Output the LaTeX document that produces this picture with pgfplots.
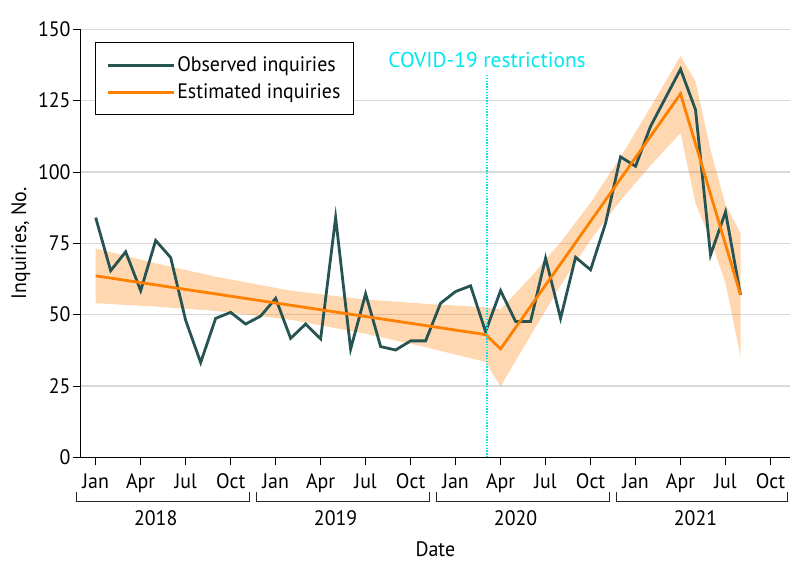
\documentclass[border=0pt]{standalone}
\usepackage{fontspec}
\setmainfont[FakeStretch=0.95]{PT Sans}
\newfontfamily\widefont{PT Sans}
\usepackage{pgfplots}
\pgfplotsset{compat=1.18}

\definecolor{obs}{RGB}{38,84,82}
\definecolor{est}{RGB}{255,127,0}
\definecolor{cov}{RGB}{0,232,238}
\definecolor{gridc}{RGB}{217,217,217}
\newcommand{\fs}{\fontsize{21}{25}\selectfont}

\begin{document}
\begin{tikzpicture}
\begin{axis}[
  scale only axis, width=709.3bp, height=428bp,
  xmin=-1, xmax=46.3, ymin=0, ymax=150,
  axis x line*=bottom, axis y line*=left,
  axis line style={-, black, line width=1bp},
  clip=false,
  ytick={0,25,...,150},
  ymajorgrids, grid style={gridc, line width=1.3bp},
  xtick={0,3,...,45},
  xticklabels={Jan,Apr,Jul,Oct,Jan,Apr,Jul,Oct,Jan,Apr,Jul,Oct,Jan,Apr,Jul,Oct},
  tick align=outside, major tick length=8bp,
  tick style={black, line width=0.9bp},
  /pgf/number format/assume math mode=true,
  every tick label/.append style={font=\fs, text=black},
  yticklabel style={inner sep=2bp},
  xticklabel style={inner sep=2bp, yshift=-6bp},
  ylabel={Inquiries, No.},
  ylabel style={at={([xshift=-60bp]axis description cs:0,0.5)}, anchor=center, rotate=0, font=\fs},
  xlabel={Date},
  xlabel style={at={([yshift=-92bp]axis description cs:0.5,0)}, anchor=center, font=\fs},
  legend style={at={(0.0202,0.9696)}, anchor=north west, draw=black, line width=0.9bp,
     font=\fs, inner xsep=11bp, inner ysep=9bp, row sep=0bp,
     nodes={text height=16bp, text depth=3bp, inner ysep=4bp},
     cells={anchor=west}},
  legend image code/.code={\path (0bp,0bp) -- (66bp,0bp); \draw[#1] (0bp,0bp) -- (61bp,0bp);},
]
% confidence band
\addplot[draw=none, fill=est, fill opacity=0.3, forget plot] coordinates {
 (0,73.2) (4,68.0) (8,63.3) (13,58.4) (18,55.3) (22,53.8) (26,52.6)
 (27,51.9) (29,63.1) (31,75.4) (33,89.2) (35,105.2) (37,122.7) (39,140.7)
 (40,131.7) (41,107.7) (42,88.5) (43,78.5)
 (43,35.3) (42,61.0) (41,76.2) (40,89.0) (39,113.6)
 (37,102.3) (35,90.0) (33,76.2) (31,60.2) (29,42.7) (27,24.8)
 (26,33.4) (22,38.6) (18,43.3) (13,48.2) (8,51.3) (4,52.8) (0,54.0)
} -- cycle;

\addplot[obs, line width=2.8bp, no markers, line join=miter] coordinates {
 (0,84) (1,65.4) (2,72) (3,58.4) (4,76) (5,70) (6,48) (7,33.2) (8,48.7) (9,50.8)
 (10,46.7) (11,49.5) (12,55.7) (13,41.7) (14,46.7) (15,41.5) (16,84) (17,37.9)
 (18,57.3) (19,38.8) (20,37.6) (21,40.8) (22,40.8) (23,54) (24,58.1) (25,60.1)
 (26,44) (27,58.4) (28,47.6) (29,47.6) (30,69.8) (31,48.7) (32,70.1) (33,65.7)
 (34,82) (35,105.3) (36,102) (37,116) (38,126) (39,136) (40,121.8) (41,70.9)
 (42,86) (43,56.9)
};
\addlegendentry{Observed inquiries}

\addplot[est, line width=2.8bp, no markers] coordinates {
 (0,63.6) (26,43.0) (27,38.0) (39,127.4) (43,57.0)
};
\addlegendentry{Estimated inquiries}

% COVID line
\draw[cov, line width=1.3bp, dash pattern=on 1.4bp off 1.4bp] (axis cs:26.1,0) -- (axis cs:26.1,134);
\node[text=cov, font=\widefont\fontsize{21.5}{25}\selectfont, anchor=center] at (axis cs:26.1,139.3) {COVID-19 restrictions};

% year brackets
\draw[black!85, line width=1bp] ([yshift=-34.4bp]axis cs:-1.25,0) -- ([yshift=-44.4bp]axis cs:-1.25,0) -- ([yshift=-44.4bp]axis cs:10.24,0) -- ([yshift=-34.4bp]axis cs:10.24,0);
\draw[black!85, line width=1bp] ([yshift=-34.4bp]axis cs:10.74,0) -- ([yshift=-44.4bp]axis cs:10.74,0) -- ([yshift=-44.4bp]axis cs:22.24,0) -- ([yshift=-34.4bp]axis cs:22.24,0);
\draw[black!85, line width=1bp] ([yshift=-34.4bp]axis cs:22.74,0) -- ([yshift=-44.4bp]axis cs:22.74,0) -- ([yshift=-44.4bp]axis cs:34.24,0) -- ([yshift=-34.4bp]axis cs:34.24,0);
\draw[black!85, line width=1bp] ([yshift=-34.4bp]axis cs:34.7,0) -- ([yshift=-44.4bp]axis cs:34.7,0) -- ([yshift=-44.4bp]axis cs:46.15,0) -- ([yshift=-34.4bp]axis cs:46.15,0);
\node[font=\fs, anchor=center] at ([yshift=-61bp]axis cs:4,0) {2018};
\node[font=\fs, anchor=center] at ([yshift=-61bp]axis cs:16,0) {2019};
\node[font=\fs, anchor=center] at ([yshift=-61bp]axis cs:28,0) {2020};
\node[font=\fs, anchor=center] at ([yshift=-61bp]axis cs:40,0) {2021};

\coordinate (O) at (rel axis cs:0,0);
\end{axis}
\pgfresetboundingbox
\path ([shift={(-80.7bp,-120.7bp)}]O) rectangle ++(798bp,578bp);
\end{tikzpicture}
\end{document}
